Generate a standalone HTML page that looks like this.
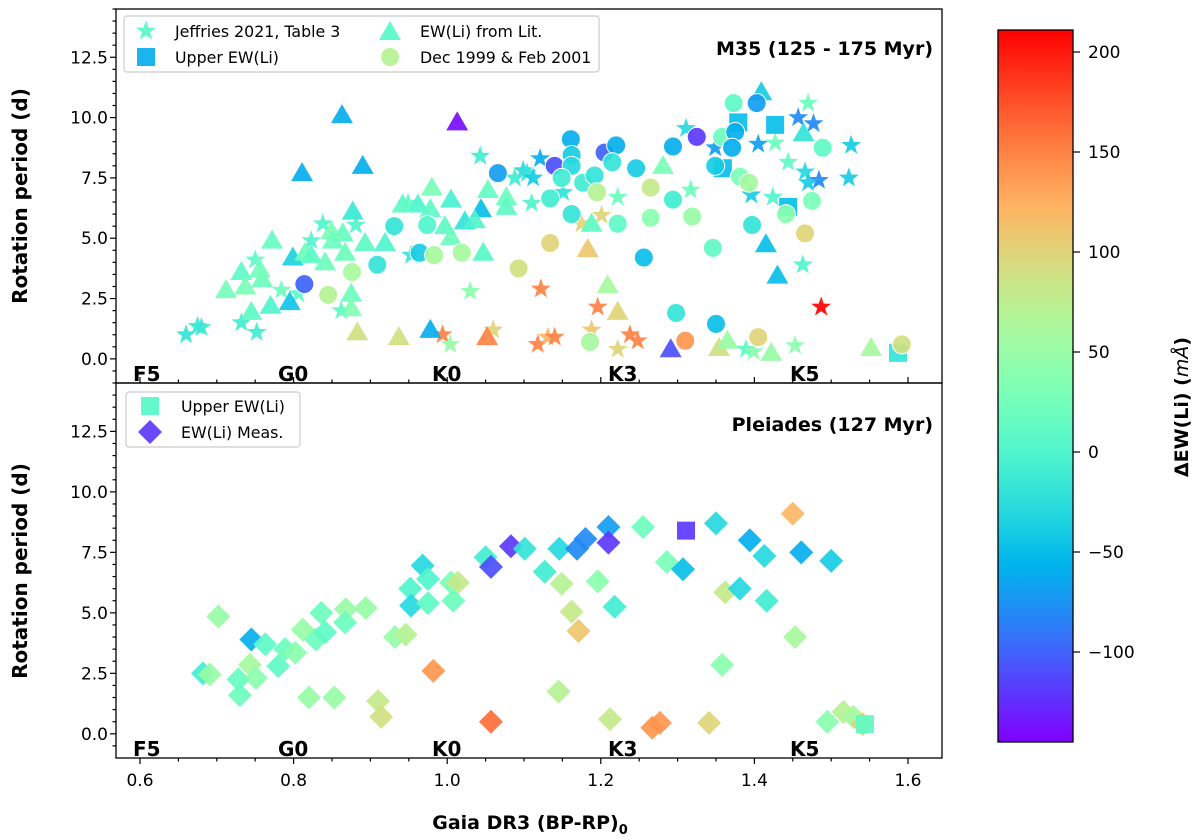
<!DOCTYPE html>
<html><head><meta charset="utf-8">
<style>
html,body{margin:0;padding:0;background:#fff;}
svg{display:block;font-family:"DejaVu Sans","Liberation Sans",sans-serif;}
</style></head>
<body>
<svg id="chart" width="1200" height="840" viewBox="0 0 1200 840" xmlns="http://www.w3.org/2000/svg">
<defs><linearGradient id="cbgrad" x1="0" y1="1" x2="0" y2="0"></linearGradient></defs>
<rect width="1200" height="840" fill="#fff"/>
<g id="top-marks"></g>
<g id="bot-marks"></g>
<g id="axes"></g>
<rect x="116" y="9" width="826" height="374" fill="none" stroke="#000" stroke-width="1.3"/>
<rect x="116" y="383" width="826" height="375" fill="none" stroke="#000" stroke-width="1.3"/>
<text x="933" y="55" text-anchor="end" font-size="19" font-weight="bold">M35 (125 - 175 Myr)</text>
<text x="933" y="431" text-anchor="end" font-size="19" font-weight="bold">Pleiades (127 Myr)</text>
<g font-size="20" font-weight="bold">
<text x="133" y="381">F5</text><text x="278" y="381">G0</text><text x="432" y="381">K0</text><text x="608" y="381">K3</text><text x="790" y="381">K5</text>
<text x="133" y="756">F5</text><text x="278" y="756">G0</text><text x="432" y="756">K0</text><text x="608" y="756">K3</text><text x="790" y="756">K5</text>
</g>
<g>
<rect x="124" y="16" width="475" height="56" rx="3" fill="#fff" fill-opacity="0.8" stroke="#ccc" stroke-width="1.2"/>
<g id="leg-top"></g>
<g font-size="15.8">
<text x="175" y="37">Jeffries 2021, Table 3</text>
<text x="175" y="63">Upper EW(Li)</text>
<text x="420" y="37">EW(Li) from Lit.</text>
<text x="420" y="63">Dec 1999 &amp; Feb 2001</text>
</g></g>
<g>
<rect x="126" y="392" width="174" height="55" rx="3" fill="#fff" fill-opacity="0.8" stroke="#ccc" stroke-width="1.2"/>
<g id="leg-bot"></g>
<g font-size="15.8">
<text x="181" y="412">Upper EW(Li)</text>
<text x="181" y="438">EW(Li) Meas.</text>
</g></g>
<text transform="translate(27,196) rotate(-90)" text-anchor="middle" font-size="20" font-weight="bold">Rotation period (d)</text>
<text transform="translate(27,571) rotate(-90)" text-anchor="middle" font-size="20" font-weight="bold">Rotation period (d)</text>
<text x="530" y="829" text-anchor="middle" font-size="19" font-weight="bold">Gaia DR3 (BP-RP)<tspan font-size="13" dy="5">0</tspan></text>
<rect x="998" y="30" width="75" height="712" fill="url(#cbgrad)" stroke="#000" stroke-width="1.3"/>
<g id="cbticks"></g>
<text transform="translate(1188,407) rotate(-90)" text-anchor="middle" font-size="19" font-weight="bold">ΔEW(Li) (<tspan font-style="italic" font-weight="normal">mÅ</tspan>)</text>
</svg>
<script>
// ---- data: [color BP-RP, period (d), delta EW(Li) mA] ----
const topStars = [[0.66,1.0,-20],[0.675,1.35,-15],[0.68,1.3,-15],[0.732,1.5,-10],[0.752,1.1,-10],[0.75,4.1,10],[0.823,4.9,0],[0.838,5.6,0],[0.881,5.55,0],[0.862,2.0,10],[1.03,2.8,40],[1.043,8.4,-10],[0.994,1.0,150],[1.004,0.6,50],[1.06,1.2,100],[0.953,4.3,-20],[0.784,2.85,20],[0.806,2.7,10],[0.949,6.45,10],[1.099,7.8,-30],[1.088,7.5,-10],
[1.121,8.3,-60],[1.104,7.7,-20],[1.112,7.5,-40],[1.151,6.9,-20],[1.11,6.45,0],[1.222,6.7,20],[1.201,5.95,100],[1.175,5.6,100],[1.317,7.0,20],[1.311,9.55,-30],[1.349,8.75,-70],[1.405,8.9,-70],[1.427,8.95,20],[1.457,10.0,-80],[1.477,9.75,-80],[1.47,10.6,20],[1.444,8.15,10],[1.466,7.75,-30],[1.484,7.4,-80],[1.47,7.3,-40],[1.526,8.85,-40],[1.523,7.5,-40],[1.396,6.8,-40],[1.424,6.7,0],[1.463,3.9,0],[1.487,2.15,210],[1.122,2.9,150],[1.196,2.15,150],[1.118,0.6,150],[1.131,0.9,120],[1.14,0.9,150],[1.188,1.2,110],[1.238,1.0,150],[1.248,0.75,150],[1.222,0.4,100],[1.389,0.4,10],[1.399,0.3,40],[1.453,0.55,40]];
const topTriangles = [[0.863,10.1,-60],[1.013,9.8,-140],[0.811,7.7,-60],[0.89,8.0,-60],[0.98,7.1,30],[0.877,6.1,-15],[0.772,4.9,15],[0.799,4.2,-35],[0.732,3.6,10],[0.712,2.85,25],[0.759,3.3,20],[0.875,2.7,20],[0.875,2.1,35],[0.883,1.1,90],[0.937,0.9,90],[0.978,1.2,-60],[1.052,0.9,150],[1.047,4.4,5],[0.919,4.8,0],[0.893,4.8,10],[0.795,2.35,-45],[0.745,1.95,10],[0.77,2.2,0],[1.005,6.6,-5],[1.053,7.0,15],[1.077,6.7,20],[1.077,6.3,10],[1.044,6.2,-50],[1.023,5.7,-20],[0.962,6.4,0],[0.978,6.2,10],[0.942,6.4,10],[0.864,5.2,15],[0.849,5.3,30],[0.815,4.4,20],[0.823,4.3,10],[0.841,4.0,20],[0.867,4.4,20],[0.851,4.9,20],[0.737,3.0,30],[0.756,3.7,25],[0.997,5.5,10],[1.036,5.75,0],[1.005,5.05,20],
[1.281,8.0,30],[1.188,5.6,10],[1.183,4.55,110],[1.209,3.05,60],[1.222,1.95,100],[1.291,0.4,-110],[1.354,0.45,90],[1.365,0.75,50],[1.422,0.25,50],[1.415,4.75,-50],[1.43,3.45,-50],[1.464,9.35,-20],[1.409,11.05,-40],[1.552,0.45,60]];
const topSquares = [[1.379,9.8,-50],[1.427,9.7,-50],[1.444,6.3,-50],[1.587,0.25,-20],[1.359,7.9,-50]];
const topCircles = [[0.814,3.1,-100],[0.845,2.65,70],[0.876,3.6,60],[0.909,3.9,-20],[0.931,5.5,-20],[0.974,5.55,0],[0.964,4.4,-40],[0.983,4.3,60],[1.019,4.4,60],[1.093,3.75,90],[1.066,7.7,-70],
[1.161,9.1,-60],[1.162,8.45,-40],[1.14,8.0,-110],[1.162,8.0,-30],[1.149,7.5,-10],[1.205,8.55,-100],[1.22,8.85,-60],[1.215,8.15,-20],[1.177,7.3,-10],[1.192,7.6,-20],[1.195,6.9,70],[1.134,6.65,-10],[1.162,6.0,-20],[1.222,5.6,10],[1.134,4.8,100],[1.246,7.9,-40],[1.265,7.1,80],[1.294,6.6,-10],[1.265,5.85,40],[1.319,5.9,50],[1.294,8.8,-60],[1.325,9.2,-120],[1.358,9.2,20],[1.375,9.4,-60],[1.371,8.75,-60],[1.349,8.0,-40],[1.381,7.55,30],[1.393,7.3,60],[1.373,10.6,10],[1.403,10.6,-70],[1.489,8.75,10],[1.475,6.55,30],[1.441,6.0,40],[1.466,5.2,100],[1.397,5.55,-20],[1.346,4.6,10],[1.256,4.2,-50],[1.298,1.9,-20],[1.35,1.45,-50],[1.31,0.75,140],[1.405,0.9,100],[1.186,0.7,60],[1.592,0.6,90]];
const botDiamonds = [[0.702,4.85,50],[0.745,3.9,-60],[0.682,2.5,-10],[0.691,2.45,50],[0.73,1.6,20],[0.728,2.25,15],[0.743,2.85,60],[0.751,2.3,40],[0.763,3.7,10],[0.78,2.8,10],[0.789,3.5,20],[0.802,3.35,40],[0.812,4.3,50],[0.829,3.9,20],[0.836,5.0,20],[0.841,4.2,10],[0.868,5.15,50],[0.867,4.6,20],[0.894,5.2,50],[0.82,1.5,50],[0.853,1.5,50],[0.91,1.35,80],[0.914,0.7,90],[0.932,4.0,50],[0.946,4.1,70],[0.968,6.95,-30],[0.952,6.0,0],[0.953,5.3,-30],[0.975,6.4,0],[0.975,5.4,10],[1.005,6.25,30],[1.014,6.25,80],[1.008,5.5,20],[0.982,2.6,140],[1.057,0.5,160],[1.05,7.3,-10],[1.057,6.9,-110],[1.083,7.75,-120],[1.101,7.65,-20],
[1.146,7.65,-30],[1.127,6.7,-10],[1.149,6.2,70],[1.169,7.65,-80],[1.18,8.05,-80],[1.21,8.55,-70],[1.21,7.9,-120],[1.196,6.3,40],[1.162,5.05,80],[1.171,4.25,110],[1.218,5.25,-10],[1.255,8.55,20],[1.286,7.1,30],[1.307,6.8,-50],[1.35,8.7,-30],[1.394,8.0,-60],[1.413,7.35,-30],[1.362,5.85,80],[1.381,6.0,-30],[1.416,5.5,-10],[1.45,9.1,120],[1.461,7.5,-60],[1.5,7.15,-40],[1.453,4.0,60],[1.358,2.85,40],[1.145,1.75,70],[1.212,0.6,80],[1.267,0.25,140],[1.277,0.45,140],[1.341,0.45,100],[1.495,0.5,40],[1.516,0.9,70],[1.529,0.7,60],[1.541,0.4,100]];
const botSquares = [[1.311,8.4,-120],[1.544,0.4,10]];
const yTicks = [0, 2.5, 5, 7.5, 10, 12.5];
const yTickLabels = ["0.0","2.5","5.0","7.5","10.0","12.5"];
const xTicks = [0.6, 0.8, 1.0, 1.2, 1.4, 1.6];
const xTickLabels = ["0.6","0.8","1.0","1.2","1.4","1.6"];
const cbTicks = [-100, -50, 0, 50, 100, 150, 200];
const cbTickLabels = ["−100","−50","0","50","100","150","200"];

const NS = "http://www.w3.org/2000/svg";
const XMIN = 0.56875, XMAX = 1.6443, YMIN = -1, YMAX = 14.5, VMIN = -145, VMAX = 211;
function sx(v){ return 116 + (v - XMIN) / (XMAX - XMIN) * 826; }
function syTop(v){ return 383 - (v - YMIN) / (YMAX - YMIN) * 374; }
function syBot(v){ return 758 - (v - YMIN) / (YMAX - YMIN) * 375; }
function cbY(v){ return 742 - (v - VMIN) / (VMAX - VMIN) * 712; }
function rainbow(v){
  let t = Math.max(0, Math.min(1, (v - VMIN) / (VMAX - VMIN)));
  const cl = a => Math.round(255 * Math.max(0, Math.min(1, a)));
  return "rgb(" + cl(Math.abs(2*t - 0.5)) + "," + cl(Math.sin(Math.PI*t)) + "," + cl(Math.cos(Math.PI*t/2)) + ")";
}
function shapePath(kind, cx, cy){
  if (kind === "star"){
    let d = "";
    for (let i = 0; i < 10; i++){
      const r = i % 2 ? 4.2 : 10.5, a = -Math.PI/2 + i*Math.PI/5;
      d += (i ? "L" : "M") + (cx + r*Math.cos(a)).toFixed(1) + "," + (cy + r*Math.sin(a)).toFixed(1);
    }
    return d + "Z";
  }
  if (kind === "tri") return "M"+cx+","+(cy-11)+"L"+(cx+11)+","+(cy+8)+"L"+(cx-11)+","+(cy+8)+"Z";
  if (kind === "sq") return "M"+(cx-9)+","+(cy-9)+"h18v18h-18Z";
  if (kind === "dia") return "M"+cx+","+(cy-12)+"L"+(cx+12)+","+cy+"L"+cx+","+(cy+12)+"L"+(cx-12)+","+cy+"Z";
  return "";
}
function mark(g, kind, cx, cy, color, name){
  let el;
  if (kind === "circ"){
    el = document.createElementNS(NS, "circle");
    el.setAttribute("cx", cx); el.setAttribute("cy", cy); el.setAttribute("r", 9.5);
    el.setAttribute("stroke", "#fff"); el.setAttribute("stroke-width", "1");
  } else {
    el = document.createElementNS(NS, "path");
    el.setAttribute("d", shapePath(kind, cx, cy));
  }
  el.setAttribute("fill", color);
  el.setAttribute("fill-opacity", "0.92");
  
  
  g.appendChild(el);
}
const gTop = document.getElementById("top-marks");
const gBot = document.getElementById("bot-marks");
topStars.forEach(d => mark(gTop, "star", sx(d[0]), syTop(d[1]), rainbow(d[2]), "jeffries-star-point"));
topTriangles.forEach(d => mark(gTop, "tri", sx(d[0]), syTop(d[1]), rainbow(d[2]), "literature-triangle-point"));
topSquares.forEach(d => mark(gTop, "sq", sx(d[0]), syTop(d[1]), rainbow(d[2]), "upper-limit-square-point"));
topCircles.forEach(d => mark(gTop, "circ", sx(d[0]), syTop(d[1]), rainbow(d[2]), "dec1999-feb2001-circle-point"));
botDiamonds.forEach(d => mark(gBot, "dia", sx(d[0]), syBot(d[1]), rainbow(d[2]), "pleiades-diamond-point"));
botSquares.forEach(d => mark(gBot, "sq", sx(d[0]), syBot(d[1]), rainbow(d[2]), "pleiades-upper-square-point"));

// legends
const lt = document.getElementById("leg-top");
mark(lt, "star", 146, 31, rainbow(5), "legend-star-marker");
mark(lt, "sq", 146, 57, rainbow(-60), "legend-square-marker");
mark(lt, "tri", 390, 32, rainbow(5), "legend-triangle-marker");
mark(lt, "circ", 390, 57, rainbow(70), "legend-circle-marker");
const lb = document.getElementById("leg-bot");
mark(lb, "sq", 150, 406, rainbow(5), "legend-upper-square-marker");
mark(lb, "dia", 150, 432, rainbow(-120), "legend-diamond-marker");

// axes ticks
const ax = document.getElementById("axes");
function line(x1,y1,x2,y2,name){
  const l = document.createElementNS(NS, "line");
  l.setAttribute("x1",x1); l.setAttribute("y1",y1); l.setAttribute("x2",x2); l.setAttribute("y2",y2);
  l.setAttribute("stroke","#000"); l.setAttribute("stroke-width","1.2");
  
  
  ax.appendChild(l);
}
function text(x,y,s,anchor,name,parent){
  const t = document.createElementNS(NS, "text");
  t.setAttribute("x",x); t.setAttribute("y",y); t.setAttribute("text-anchor",anchor);
  t.setAttribute("font-size","17"); t.textContent = s;
  
  
  (parent || ax).appendChild(t);
}
for (let v = -0.5; v <= 14.5; v += 0.5){
  const major = Math.abs(v/2.5 - Math.round(v/2.5)) < 1e-6;
  const len = major ? 6 : 3.5;
  line(116-len, syTop(v), 116, syTop(v), "y-tick");
  line(116-len, syBot(v), 116, syBot(v), "y-tick");
}
yTicks.forEach((v,i) => {
  text(108, syTop(v)+6, yTickLabels[i], "end", "top-y-tick-label");
  text(108, syBot(v)+6, yTickLabels[i], "end", "bottom-y-tick-label");
});
for (let v = 0.6; v <= 1.64; v += 0.05){
  const major = Math.abs(v/0.2 - Math.round(v/0.2)) < 1e-6;
  const len = major ? 6 : 3.5;
  line(sx(v), 758, sx(v), 758+len, "x-tick");
  line(sx(v), 383, sx(v), 383-len, "x-tick-top-panel");
}
xTicks.forEach((v,i) => text(sx(v), 786, xTickLabels[i], "middle", "x-tick-label"));

// colorbar
const grad = document.getElementById("cbgrad");
for (let i = 0; i <= 20; i++){
  const s = document.createElementNS(NS, "stop");
  s.setAttribute("offset", (i/20).toFixed(3));
  s.setAttribute("stop-color", rainbow(VMIN + (VMAX-VMIN)*i/20));
  grad.appendChild(s);
}
const cbt = document.getElementById("cbticks");
cbTicks.forEach((v,i) => {
  const l = document.createElementNS(NS, "line");
  l.setAttribute("x1",1073); l.setAttribute("x2",1080); l.setAttribute("y1",cbY(v)); l.setAttribute("y2",cbY(v));
  l.setAttribute("stroke","#000"); l.setAttribute("stroke-width","1.2");
  
  
  cbt.appendChild(l);
  text(1088, cbY(v)+6, cbTickLabels[i], "start", "colorbar-tick-label", cbt);
});
</script>
</body></html>
